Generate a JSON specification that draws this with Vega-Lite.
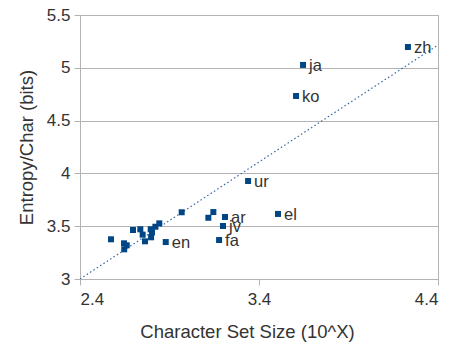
{
  "$schema": "https://vega.github.io/schema/vega-lite/v6.json",
  "width": 358,
  "height": 264,
  "autosize": "none",
  "padding": {"left": 80, "top": 15, "right": 16, "bottom": 70},
  "background": "white",
  "config": {
    "font": "Liberation Sans",
    "view": {"stroke": "#b3b3b3", "strokeWidth": 1},
    "axis": {
      "labelFont": "Liberation Sans",
      "titleFont": "Liberation Sans",
      "labelFontSize": 17,
      "titleFontSize": 18.5,
      "labelColor": "#333333",
      "titleColor": "#333333",
      "titleFontWeight": "normal",
      "domainColor": "#b3b3b3",
      "tickColor": "#b3b3b3",
      "gridColor": "#b3b3b3",
      "tickSize": 6
    }
  },
  "datasets": {
    "pts": [
      {"x": 2.573, "y": 3.376, "lang": ""},
      {"x": 2.646, "y": 3.338, "lang": ""},
      {"x": 2.661, "y": 3.319, "lang": ""},
      {"x": 2.647, "y": 3.281, "lang": ""},
      {"x": 2.696, "y": 3.464, "lang": ""},
      {"x": 2.737, "y": 3.471, "lang": ""},
      {"x": 2.750, "y": 3.42, "lang": ""},
      {"x": 2.763, "y": 3.357, "lang": ""},
      {"x": 2.795, "y": 3.471, "lang": ""},
      {"x": 2.802, "y": 3.44, "lang": ""},
      {"x": 2.797, "y": 3.395, "lang": ""},
      {"x": 2.821, "y": 3.495, "lang": ""},
      {"x": 2.843, "y": 3.527, "lang": ""},
      {"x": 2.879, "y": 3.35, "lang": "en"},
      {"x": 2.968, "y": 3.632, "lang": ""},
      {"x": 3.117, "y": 3.58, "lang": ""},
      {"x": 3.145, "y": 3.634, "lang": ""},
      {"x": 3.21, "y": 3.587, "lang": "ar"},
      {"x": 3.199, "y": 3.502, "lang": "jv"},
      {"x": 3.177, "y": 3.369, "lang": "fa"},
      {"x": 3.506, "y": 3.616, "lang": "el"},
      {"x": 3.339, "y": 3.928, "lang": "ur"},
      {"x": 3.607, "y": 4.733, "lang": "ko"},
      {"x": 3.646, "y": 5.027, "lang": "ja"},
      {"x": 4.232, "y": 5.197, "lang": "zh"}
    ],
    "trend": [
      {"x": 2.4, "y": 3.0},
      {"x": 4.4, "y": 5.216}
    ]
  },
  "layer": [
    {
      "data": {"name": "trend"},
      "mark": {"type": "line", "color": "#3465a4", "strokeWidth": 1.2, "strokeDash": [1.5, 2.5], "clip": true},
      "encoding": {
        "x": {"field": "x", "type": "quantitative", "scale": {"domain": [2.4, 4.4], "nice": false, "zero": false},
          "axis": {"values": [2.4, 3.4, 4.4], "grid": false, "title": "Character Set Size (10^X)", "titleX": 167, "titlePadding": 15, "labelPadding": 6, "format": ".1f"}},
        "y": {"field": "y", "type": "quantitative", "scale": {"domain": [3, 5.5], "nice": false, "zero": false},
          "axis": {"values": [3, 3.5, 4, 4.5, 5, 5.5], "grid": true, "format": ".1~f", "title": "Entropy/Char (bits)", "titlePadding": 10, "labelPadding": 4}}
      }
    },
    {
      "data": {"name": "pts"},
      "mark": {"type": "point", "shape": "square", "filled": true, "size": 36, "color": "#004586", "opacity": 1},
      "encoding": {
        "x": {"field": "x", "type": "quantitative"},
        "y": {"field": "y", "type": "quantitative"}
      }
    },
    {
      "data": {"name": "pts"},
      "mark": {"type": "text", "align": "left", "baseline": "middle", "dx": 6, "dy": 1, "fontSize": 16.5, "color": "#333333", "font": "Liberation Sans"},
      "encoding": {
        "x": {"field": "x", "type": "quantitative"},
        "y": {"field": "y", "type": "quantitative"},
        "text": {"field": "lang"}
      }
    }
  ]
}
